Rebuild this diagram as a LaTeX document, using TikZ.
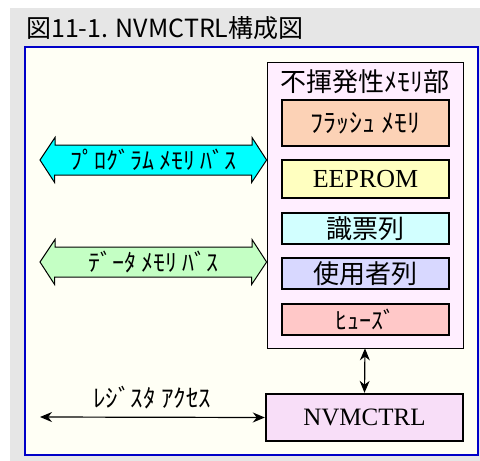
\documentclass[tikz,border=0pt]{standalone}
\usepackage{fontspec}
\setmainfont{Liberation Serif}
\newfontfamily\jpfont{Noto Sans CJK JP}
\usetikzlibrary{arrows.meta}
\definecolor{bggray}{HTML}{E6E6E6}
\definecolor{panelfill}{HTML}{FFFFF5}
\definecolor{panelblue}{HTML}{0000C8}
\definecolor{memfill}{HTML}{FFEEFF}
\definecolor{flashfill}{HTML}{FCD2B6}
\definecolor{eepfill}{HTML}{FFFFC0}
\definecolor{sigfill}{HTML}{D2FFFF}
\definecolor{userfill}{HTML}{D8D8FF}
\definecolor{fusefill}{HTML}{FFC8C8}
\definecolor{nvmfill}{HTML}{F8DEF8}
\definecolor{pbusfill}{HTML}{00FFFF}
\definecolor{dbusfill}{HTML}{C4FFC4}
\tikzset{
  blk/.style={draw,line width=2.4pt,minimum width=167pt,inner sep=0pt},
  jp/.style={font=\jpfont\fontsize{#1}{#1}\selectfont},
  bus/.style={draw,line width=1pt,line join=miter},
  tip/.style={{Stealth[length=12pt,width=10pt]}-{Stealth[length=12pt,width=10pt]},line width=1.2pt}
}
\begin{document}
\begin{tikzpicture}[x=1pt,y=-1pt]
\useasboundingbox(0,0)rectangle(480,461);
\fill[bggray](10,8)rectangle(480,461);
\node[anchor=base west,inner sep=0pt,jp=25](title) at (26,37){図11-1. NVMCTRL構成図};
\draw[panelblue,line width=1.5pt,fill=panelfill](25,47)rectangle(478,455);
\node[draw,line width=0.8pt,fill=memfill,minimum width=196pt,minimum height=286pt](mem) at (365,205){};
\node[jp=26](memtitle) at (365,82){不揮発性ﾒﾓﾘ部};
\node[blk,fill=flashfill,minimum height=46pt,jp=26](flash) at (365.5,123){ﾌﾗｯｼｭ ﾒﾓﾘ};
\node[blk,fill=eepfill,minimum height=38pt,font=\fontsize{26}{26}\selectfont](eep) at (365.5,179){EEPROM};
\node[blk,fill=sigfill,minimum height=31pt,jp=26](sig) at (365.5,228.5){識票列};
\node[blk,fill=userfill,minimum height=31pt,jp=26](user) at (365.5,273.5){使用者列};
\node[blk,fill=fusefill,minimum height=31pt,jp=24](fuse) at (365.5,319.5){ﾋｭｰｽﾞ};
\node[blk,fill=nvmfill,minimum width=197pt,minimum height=47pt,font=\fontsize{25}{25}\selectfont](nvm) at (364.5,417.5){NVMCTRL};
\draw[tip](mem.south)--(nvm.north);
\coordinate(regend) at (40,417);
\draw[tip](regend)--(nvm.west) node[midway,above=4pt,jp=25](reglbl){ﾚｼﾞｽﾀ ｱｸｾｽ};
\foreach \yy/\cc/\nn/\lbl in {160/pbusfill/pbus/{ﾌﾟﾛｸﾞﾗﾑ ﾒﾓﾘ ﾊﾞｽ},262/dbusfill/dbus/{ﾃﾞｰﾀ ﾒﾓﾘ ﾊﾞｽ}}{
  \draw[bus,fill=\cc](40,\yy)--++(15,-22.5)--++(0,7.5)--++(197,0)--++(0,-7.5)--(mem.west|-0,\yy)
    --++(-15,22.5)--++(0,-7.5)--++(-197,0)--++(0,7.5)--cycle;
  \node[jp=24](\nn) at (153.5,\yy){\lbl};
}
\end{tikzpicture}
\end{document}
